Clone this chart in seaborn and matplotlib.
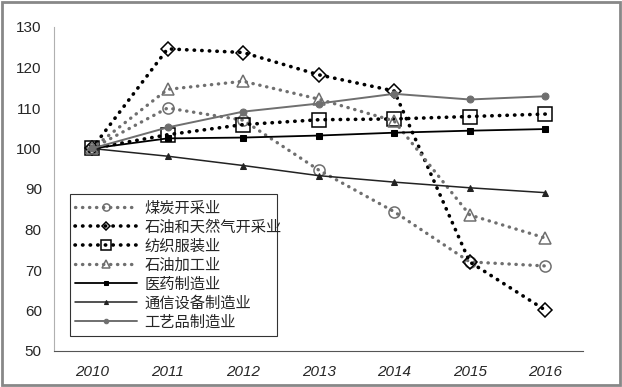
import numpy as np
import matplotlib
matplotlib.use("Agg")
import matplotlib.pyplot as plt
import seaborn as sns
from matplotlib.patches import Rectangle

# data
years = ["2010", "2011", "2012", "2013", "2014", "2015", "2016"]
coal = [100, 110.0, 107.0, 94.7, 84.4, 72.0, 71.0]
oil_gas = [100, 124.6, 123.7, 118.2, 114.2, 72.0, 60.1]
textile = [100, 103.4, 105.9, 107.1, 107.3, 107.9, 108.5]
refining = [100, 114.6, 116.6, 112.2, 106.8, 83.6, 77.9]
pharma = [100, 102.5, 102.7, 103.2, 103.9, 104.4, 104.8]
telecom = [100, 98.1, 95.8, 93.3, 91.7, 90.3, 89.1]
crafts = [100, 105.2, 109.1, 111.1, 113.5, 112.1, 112.9]

names = ["煤炭开采业", "石油和天然气开采业", "纺织服装业", "石油加工业",
         "医药制造业", "通信设备制造业", "工艺品制造业"]

sns.set_style("white")
plt.rcParams["font.family"] = ["Liberation Sans", "Noto Sans CJK SC", "DejaVu Sans"]

fig = plt.figure(figsize=(6.22, 3.87), dpi=100)
ax = fig.add_axes([54.25 / 622, 36 / 387, 528.75 / 622, 324 / 387])

x = np.arange(len(years))
gray = "#6f6f6f"

# dotted series with open markers
dotted = [
    (coal, gray, "o", 8, 2.4),
    (oil_gas, "black", "D", 7, 2.6),
    (textile, "black", "s", 10, 2.6),
    (refining, gray, "^", 9, 2.4),
]
for i, (vals, c, m, ms, lw) in enumerate(dotted):
    sns.lineplot(x=x, y=vals, ax=ax, color=c, linestyle=(0, (0.1, 2.0)),
                 linewidth=lw, marker=m, markersize=ms, markerfacecolor="none",
                 markeredgecolor=c, markeredgewidth=1.1, label=names[i])
for ln in ax.lines:
    ln.set_dash_capstyle("round")

# solid series with small filled markers
solid = [
    (pharma, "black", "s", 4.5, 1.3),
    (telecom, "#222222", "^", 4.5, 1.1),
    (crafts, gray, "o", 5, 1.4),
]
for j, (vals, c, m, ms, lw) in enumerate(solid):
    sns.lineplot(x=x, y=vals, ax=ax, color=c, linewidth=lw, marker=m,
                 markersize=ms, markerfacecolor=c, markeredgecolor=c,
                 label=names[4 + j])

ax.set_xlim(-0.5, 6.5)
ax.set_ylim(50, 130)
ax.set_yticks(range(50, 131, 10))
ax.set_xticks(x)
ax.set_xticklabels(years, fontstyle="italic", fontsize=11)
ax.set_xticks(np.arange(-0.5, 7, 1), minor=True)
ax.tick_params(axis="x", which="major", length=0, pad=10)
ax.tick_params(axis="x", which="minor", direction="in", length=5, color="#555555")
ax.tick_params(axis="y", direction="out", length=3, color="#999999", labelsize=11, pad=6)
ax.set_xlabel("")
ax.set_ylabel("")

for s in ["top", "right"]:
    ax.spines[s].set_visible(False)
ax.spines["left"].set_color("#b0b0b0")
ax.spines["left"].set_linewidth(0.8)
ax.spines["bottom"].set_color("#555555")
ax.spines["bottom"].set_linewidth(0.8)

leg = ax.legend(loc="lower left", bbox_to_anchor=(0.03, 0.046, 0.392, 0.41),
                mode="expand", prop={"family": ["Noto Sans CJK SC", "DejaVu Sans"], "size": 11},
                frameon=True, fancybox=False, edgecolor="black", handlelength=4,
                markerscale=0.65, borderaxespad=0, labelspacing=0.13,
                handletextpad=0.5, borderpad=0.35)
leg.get_frame().set_linewidth(0.8)

fig.patches.append(Rectangle((0.004, 0.006), 0.992, 0.988, transform=fig.transFigure,
                             fill=False, edgecolor="#888888", linewidth=2))

fig.savefig("out.png", dpi=100)
